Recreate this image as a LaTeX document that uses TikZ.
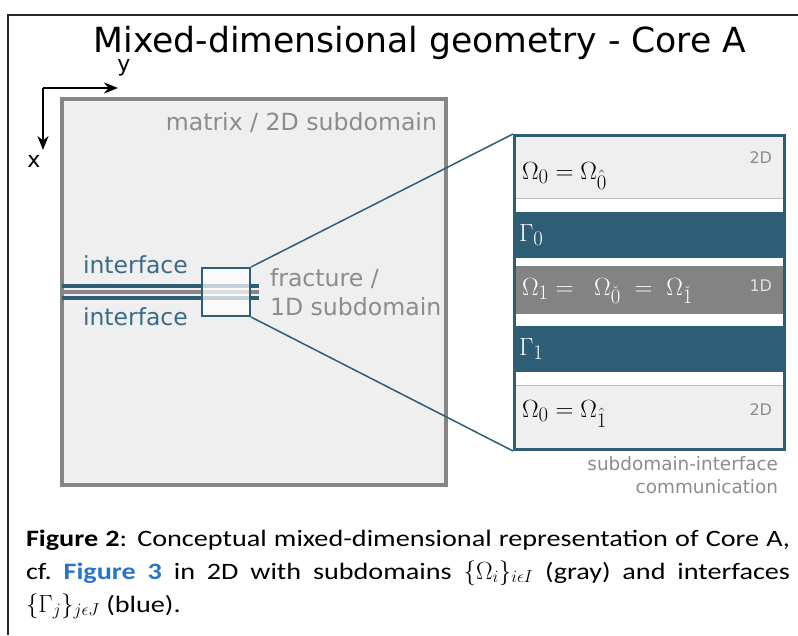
\documentclass[tikz,border=0pt]{standalone}
\usepackage{fontspec}
\setmainfont{DejaVu Sans}
\newfontfamily\capfont[FakeStretch=1.2]{Carlito}
\usetikzlibrary{arrows.meta}
\definecolor{ifblue}{HTML}{2E5D76}
\definecolor{iftext}{HTML}{3B6B86}
\definecolor{bandgray}{HTML}{838383}
\definecolor{lightfill}{HTML}{EFEFEF}
\definecolor{framegray}{HTML}{868686}
\definecolor{labgray}{HTML}{8C8C8C}
\definecolor{fracgray}{HTML}{8B8585}
\definecolor{linkblue}{HTML}{2A73C8}
\tikzset{
  lbl/.style={inner sep=0pt, outer sep=0pt},
  graylbl/.style={lbl, text=labgray, font=\fontsize{23.6}{26}\selectfont},
  iflbl/.style={lbl, text=iftext, font=\fontsize{23.5}{26}\selectfont},
  bandtxt/.style={lbl, font=\fontsize{29}{32}\selectfont},
  dimlbl/.style={lbl, font=\fontsize{16}{18}\selectfont},
  band/.style={draw=none, inner sep=0pt, outer sep=0pt, minimum width=270pt},
  zoomline/.style={draw=ifblue, line width=1.5pt},
}
\begin{document}
\begin{tikzpicture}[x=1pt,y=-1pt]
\useasboundingbox (0,0) rectangle (798,635);
\fill[white] (0,0) rectangle (798,635);
% outer frame
\coordinate (ftr) at (798,15);
\coordinate (ftl) at (8,15);
\coordinate (fbl) at (8,635);
\draw[line width=1.5pt, black!85] (ftr) -- (ftl) -- (fbl);
% title
\node[lbl, anchor=base, font=\fontsize{34.6}{38}\selectfont] (title) at (420,52) {Mixed-dimensional geometry - Core A};
% axes
\coordinate (ax0) at (43,88);
\coordinate (axy) at (118,88);
\coordinate (axx) at (43,150);
\draw[line width=2pt, -{Stealth[length=14pt,width=11pt]}] (ax0) -- (axy);
\draw[line width=2pt, -{Stealth[length=14pt,width=11pt]}] (ax0) -- (axx);
\node[lbl, font=\fontsize{22}{24}\selectfont] (ylab) at (124,68) {y};
\node[lbl, font=\fontsize{22}{24}\selectfont] (xlab) at (34,161) {x};
% matrix
\node[draw=framegray, fill=lightfill, line width=4pt, minimum width=384pt, minimum height=386pt, inner sep=0pt] (matrix) at (254,292) {};
\node[graylbl, anchor=base east] (matlab) at (437,130) {matrix / 2D subdomain};
% fracture lines
\coordinate (fl1) at (62,286); \coordinate (fr1) at (259,286);
\coordinate (fl2) at (62,292); \coordinate (fr2) at (259,292);
\coordinate (fl3) at (62,298); \coordinate (fr3) at (259,298);
\draw[ifblue, line width=3.6pt] (fl1) -- (fr1);
\draw[fracgray, line width=3.4pt] (fl2) -- (fr2);
\draw[ifblue, line width=3.6pt] (fl3) -- (fr3);
% zoom box
\node[draw=ifblue, fill=white, fill opacity=0.72, draw opacity=1, line width=2pt, minimum width=48pt, minimum height=48pt, inner sep=0pt] (zbox) at (226,292) {};
\node[iflbl, anchor=base west] (if1) at (83,273) {interface};
\node[iflbl, anchor=base west] (if2) at (83,325) {interface};
\node[graylbl, anchor=base west] (frac1) at (270,286) {fracture /};
\node[graylbl, anchor=base west] (frac2) at (270,315) {1D subdomain};
% right panel bands
\node[band, fill=lightfill, minimum height=64pt, anchor=north west] (b1) at (513,134) {};
\node[band, fill=ifblue, minimum height=46pt, anchor=north west] (b2) at (513,212) {};
\node[band, fill=bandgray, minimum height=48pt, anchor=north west] (b3) at (513,266) {};
\node[band, fill=ifblue, minimum height=46pt, anchor=north west] (b4) at (513,326) {};
\node[band, fill=lightfill, minimum height=63pt, anchor=north west] (b5) at (513,385) {};
\draw[black!25, line width=0.8pt] (b1.south west) -- (b1.south east);
\draw[black!25, line width=0.8pt] (b5.north west) -- (b5.north east);
\node[draw=ifblue, line width=3pt, minimum width=270pt, minimum height=314pt, inner sep=0pt, anchor=north west] (panel) at (513,134) {};
% zoom lines
\draw[zoomline] (zbox.north east) -- (panel.north west);
\draw[zoomline] (zbox.south east) -- (panel.south west);
% band texts
\node[bandtxt, anchor=base west] (t1) at (522,179) {$\Omega_{0}=\Omega_{\hat{0}}$};
\node[bandtxt, anchor=base west, text=white] (t2) at (519,241) {$\Gamma_{0}$};
\node[bandtxt, anchor=base west, text=white] (t3) at (522,295) {$\Omega_{1}={}\;\;\Omega_{\check{0}}\;=\;\Omega_{\check{1}}$};
\node[bandtxt, anchor=base west, text=white] (t4) at (519,355) {$\Gamma_{1}$};
\node[bandtxt, anchor=base west] (t5) at (522,417) {$\Omega_{0}=\Omega_{\hat{1}}$};
\node[dimlbl, anchor=base east, text=labgray] (d1) at (772,163) {2D};
\node[dimlbl, anchor=base east, text=black!12] (d2) at (772,291) {1D};
\node[dimlbl, anchor=base east, text=labgray] (d3) at (772,415) {2D};
% communication label
\node[lbl, anchor=base east, text=labgray, font=\fontsize{18.4}{22}\selectfont] (com1) at (778,470) {subdomain-interface};
\node[lbl, anchor=base east, text=labgray, font=\fontsize{18.4}{22}\selectfont] (com2) at (778,493) {communication};
% caption
\node[lbl, anchor=base west, align=left, font=\capfont\fontsize{23.5}{33}\selectfont] (cap) at (26,612)
{\makebox[764pt][s]{\textbf{Figure 2}: Conceptual mixed-dimensional representation of Core A,}\\
\makebox[764pt][s]{cf.\ {\color{linkblue}\textbf{Figure 3}} in 2D with subdomains $\{\Omega_{i}\}_{i\epsilon I}$ (gray) and interfaces}\\
$\{\Gamma_{j}\}_{j\epsilon J}$ (blue).};
\end{tikzpicture}
\end{document}
